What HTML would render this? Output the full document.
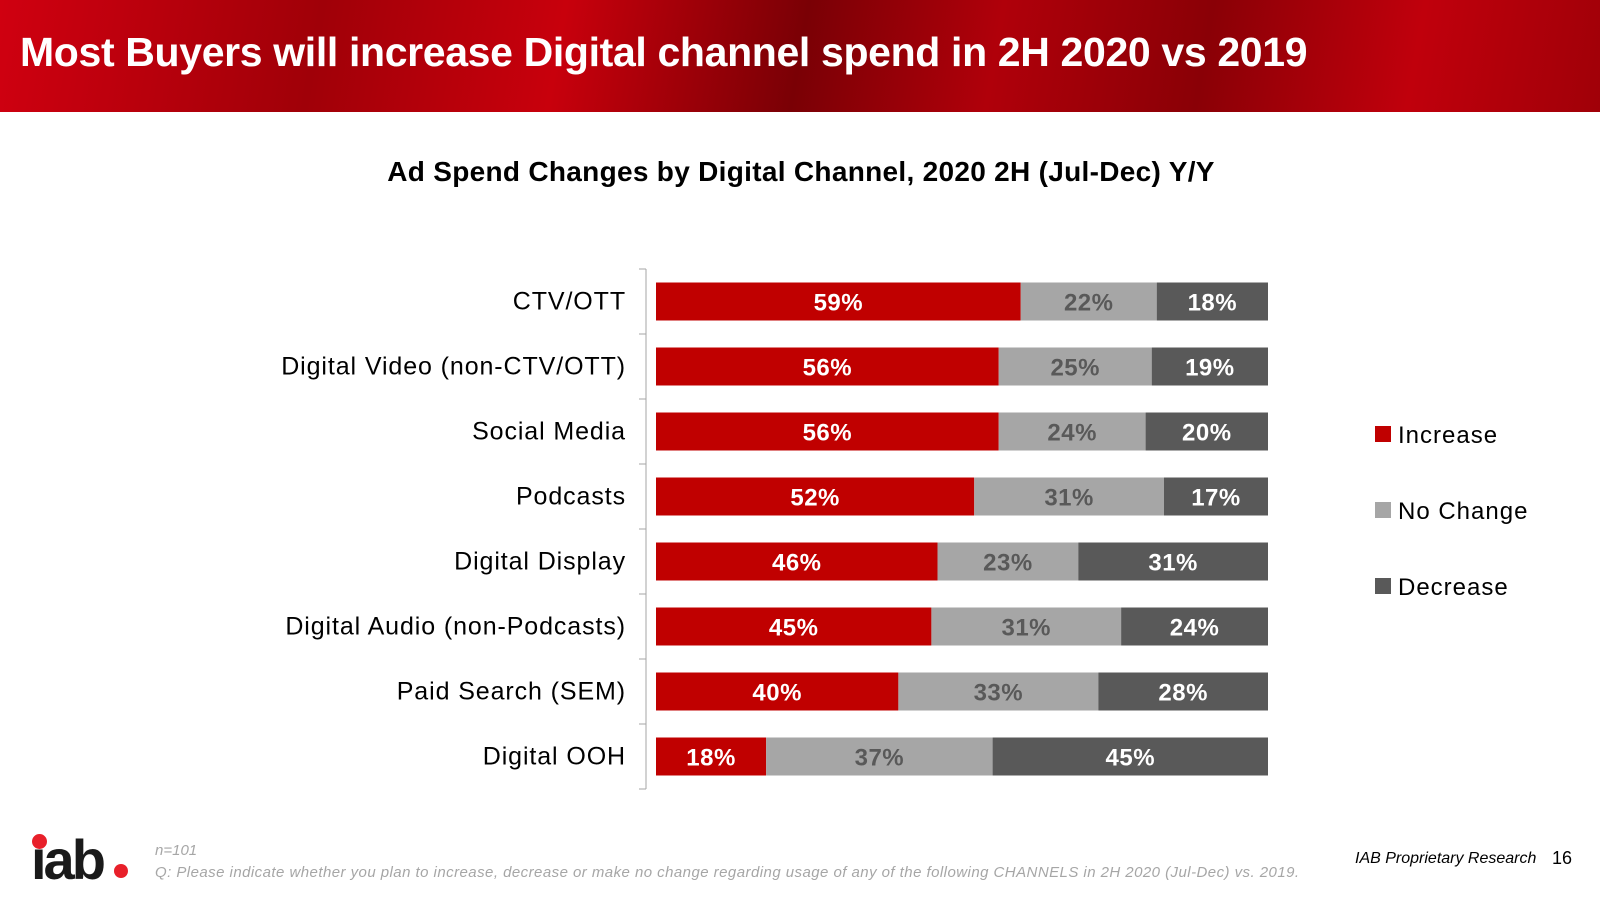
<!DOCTYPE html>
<html><head><meta charset="utf-8"><style>
body{margin:0;width:1600px;height:900px;overflow:hidden;background:#fff;font-family:"Liberation Sans",sans-serif;position:relative}
#hdr{position:absolute;left:0;top:0;width:1600px;height:112px;background:linear-gradient(100deg,#d00010 0%,#a00008 20%,#c8000c 35%,#7a0005 50%,#b0000a 62%,#8a0006 75%,#c0000c 88%,#a00008 100%)}
#hdr h1{margin:0;position:absolute;left:20px;top:29px;color:#fff;font-size:41px;font-weight:bold;letter-spacing:-0.35px}
.abs{position:absolute}
</style></head><body>
<div id="hdr"><h1>Most Buyers will increase Digital channel spend in 2H 2020 vs 2019</h1></div>
<div class="abs" style="left:0;width:1602px;top:156px;text-align:center;font-size:28px;font-weight:bold;color:#000;letter-spacing:0.3px">Ad Spend Changes by Digital Channel, 2020 2H (Jul-Dec) Y/Y</div>
<svg class="abs" style="left:0;top:0" width="1600" height="900" id="chart"></svg>
<div class="abs" style="left:32px;top:830px;width:100px;height:54px">
<div style="position:absolute;left:-1px;top:2px;font-size:56px;font-weight:bold;color:#1a1a1a;letter-spacing:-3px;line-height:56px">&#8203;iab</div>
<div style="position:absolute;left:0px;top:4px;width:15px;height:15px;border-radius:50%;background:#e8202a"></div>
<div style="position:absolute;left:82px;top:34px;width:14px;height:14px;border-radius:50%;background:#e8202a"></div>
</div>
<div class="abs" style="left:155px;top:842px;font-size:15px;font-style:italic;color:#a6a6a6">n=101</div>
<div class="abs" style="left:155px;top:864px;font-size:15px;font-style:italic;color:#a6a6a6;letter-spacing:0.45px">Q: Please indicate whether you plan to increase, decrease or make no change regarding usage of any of the following CHANNELS in 2H 2020 (Jul-Dec) vs. 2019.</div>
<div class="abs" style="left:1355px;top:850px;font-size:16px;font-style:italic;color:#000">IAB Proprietary Research</div>
<div class="abs" style="left:1552px;top:848px;font-size:18px;color:#000">16</div>
<script>
const categories=["CTV/OTT","Digital Video (non-CTV/OTT)","Social Media","Podcasts","Digital Display","Digital Audio (non-Podcasts)","Paid Search (SEM)","Digital OOH"];
const increase=[59,56,56,52,46,45,40,18];
const noChange=[22,25,24,31,23,31,33,37];
const decrease=[18,19,20,17,31,24,28,45];
const seriesNames=["Increase","No Change","Decrease"];
const svg=document.getElementById('chart');
const NS='http://www.w3.org/2000/svg';
const x0=656,W=612,top0=269,rowH=65,barH=38;
const colors=["#c00000","#a6a6a6","#595959"],tcol=["#fff","#595959","#fff"];
function mk(t,a){const e=document.createElementNS(NS,t);for(const k in a)e.setAttribute(k,a[k]);svg.appendChild(e);return e;}
function yC(i){return top0+rowH*(i+0.5);}
const ax=mk('line',{x1:646,x2:646,y1:top0,y2:top0+rowH*categories.length,stroke:'#a6a6a6','stroke-width':1});

for(let i=0;i<=categories.length;i++){const t=mk('line',{x1:639,x2:646,y1:top0+rowH*i,y2:top0+rowH*i,stroke:'#a6a6a6'});
}
categories.forEach((c,i)=>{
 const l=mk('text',{x:626,y:yC(i)+8,'text-anchor':'end','font-size':25,'letter-spacing':0.9,fill:'#000','font-family':'Liberation Sans'});l.textContent=c;
 
 const vals=[increase[i],noChange[i],decrease[i]];const sum=vals[0]+vals[1]+vals[2];let acc=0;
 vals.forEach((v,s)=>{const x=x0+W*acc/sum,w=W*v/sum;acc+=v;
  const r=mk('rect',{x:x,y:yC(i)-barH/2,width:w,height:barH,fill:colors[s]});
  
  const t=mk('text',{x:x+w/2,y:yC(i)+9,'text-anchor':'middle','font-size':24,'font-weight':'bold','letter-spacing':0.5,fill:tcol[s],'font-family':'Liberation Sans'});t.textContent=v+'%';
  });
});
seriesNames.forEach((n,s)=>{const y=434+s*76;
 const r=mk('rect',{x:1375,y:y-8,width:16,height:16,fill:colors[s]});
 
 const t=mk('text',{x:1398,y:y+9,'font-size':24,'letter-spacing':1,fill:'#000','font-family':'Liberation Sans'});t.textContent=n;
 });
</script>
</body></html>
